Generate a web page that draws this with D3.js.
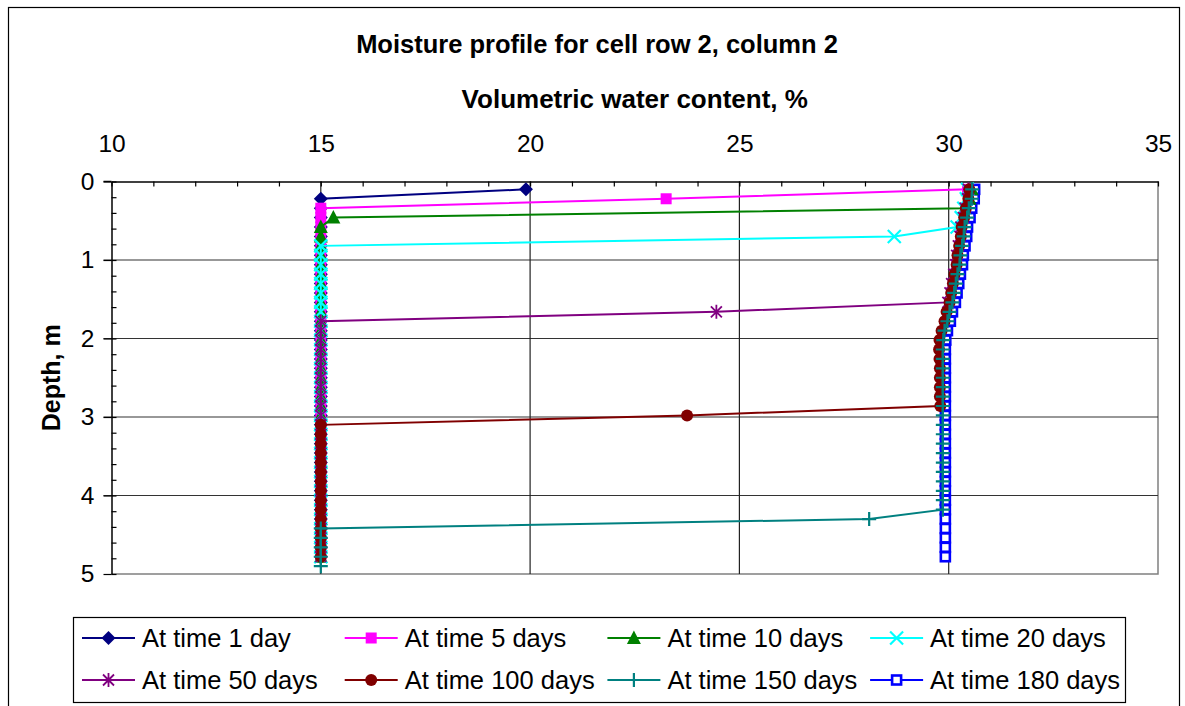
<!DOCTYPE html>
<html>
<head>
<meta charset="utf-8">
<script src="https://cdn.jsdelivr.net/npm/d3@7"></script>
<style>
  body { margin: 0; background: #fff; }
  text { font-family: "Liberation Sans", Arial, sans-serif; fill: #000; }
</style>
</head>
<body>
<div id="chart"></div>
<script>
// depth of each node, m
const depth = [0.10, 0.22, 0.34, 0.46, 0.58, 0.70, 0.82, 0.94, 1.06, 1.18,
  1.30, 1.42, 1.54, 1.66, 1.78, 1.90, 2.02, 2.14, 2.26, 2.38,
  2.50, 2.62, 2.74, 2.86, 2.98, 3.10, 3.22, 3.34, 3.46, 3.58,
  3.70, 3.82, 3.94, 4.06, 4.18, 4.30, 4.42, 4.54, 4.66, 4.78,
  4.90];

// volumetric water content, %, one value per depth node
const day1 = [19.9, 15, 15, 15, 15, 15, 15, 15, 15, 15,
  15, 15, 15, 15, 15, 15, 15, 15, 15, 15,
  15, 15, 15, 15, 15, 15, 15, 15, 15, 15,
  15, 15, 15, 15, 15, 15, 15, 15, 15, 15,
  null];
const day5 = [30.45, 23.25, 15, 15, 15, 15, 15, 15, 15, 15,
  15, 15, 15, 15, 15, 15, 15, 15, 15, 15,
  15, 15, 15, 15, 15, 15, 15, 15, 15, 15,
  15, 15, 15, 15, 15, 15, 15, 15, 15, 15,
  null];
const day10 = [30.55, 30.50, 30.38, 15.3, 15, 15, 15, 15, 15, 15,
  15, 15, 15, 15, 15, 15, 15, 15, 15, 15,
  15, 15, 15, 15, 15, 15, 15, 15, 15, 15,
  15, 15, 15, 15, 15, 15, 15, 15, 15, 15,
  null];
const day20 = [30.45, 30.42, 30.36, 30.30, 30.20, 28.7, 15, 15, 15, 15,
  15, 15, 15, 15, 15, 15, 15, 15, 15, 15,
  15, 15, 15, 15, 15, 15, 15, 15, 15, 15,
  15, 15, 15, 15, 15, 15, 15, 15, 15, 15,
  null];
const day50 = [30.47, 30.45, 30.39, 30.35, 30.29, 30.27, 30.23, 30.19, 30.17, 30.12,
  30.07, 30.03, 29.98, 24.45, 15, 15, 15, 15, 15, 15,
  15, 15, 15, 15, 15, 15, 15, 15, 15, 15,
  15, 15, 15, 15, 15, 15, 15, 15, 15, 15,
  null];
const day100 = [30.49, 30.47, 30.41, 30.37, 30.31, 30.29, 30.25, 30.21, 30.19, 30.14,
  30.10, 30.06, 30.02, 29.95, 29.90, 29.83, 29.78, 29.77, 29.78, 29.79,
  29.79, 29.79, 29.79, 29.80, 23.75, 15, 15, 15, 15, 15,
  15, 15, 15, 15, 15, 15, 15, 15, 15, 15,
  null];
const day150 = [30.56, 30.55, 30.48, 30.44, 30.38, 30.36, 30.32, 30.28, 30.26, 30.21,
  30.17, 30.13, 30.09, 30.02, 29.97, 29.90, 29.87, 29.86, 29.86, 29.86,
  29.86, 29.86, 29.86, 29.86, 29.86, 29.86, 29.86, 29.86, 29.86, 29.86,
  29.86, 29.86, 29.86, 29.86, 29.86, 28.1, 15, 15, 15, 15,
  15];
const day180 = [30.62, 30.61, 30.55, 30.51, 30.45, 30.43, 30.39, 30.35, 30.33, 30.28,
  30.24, 30.20, 30.16, 30.09, 30.04, 29.97, 29.93, 29.92, 29.92, 29.92,
  29.92, 29.92, 29.92, 29.92, 29.92, 29.92, 29.92, 29.92, 29.92, 29.92,
  29.92, 29.92, 29.92, 29.92, 29.92, 29.92, 29.92, 29.92, 29.92, 29.92,
  null];

const seriesNames = ["At time 1 day", "At time 5 days", "At time 10 days", "At time 20 days",
  "At time 50 days", "At time 100 days", "At time 150 days", "At time 180 days"];
const seriesValues = [day1, day5, day10, day20, day50, day100, day150, day180];
const seriesColors = ["#000080", "#ff00ff", "#008000", "#00ffff",
  "#800080", "#800000", "#008080", "#0000ff"];
const seriesMarkers = ["diamond", "square", "triangle", "cross", "star", "circle", "plus", "box"];
// order in which the series are painted (180 days sits underneath the rest)
const drawOrder = [7, 0, 1, 2, 3, 4, 5, 6];

const xTicks = [10, 15, 20, 25, 30, 35];
const yTicks = [0, 1, 2, 3, 4, 5];

let width = 1185,
  height = 706;

let svg = d3.select("#chart")
  .append("svg")
  .attr("width", width)
  .attr("height", height);

// chart frame
svg.append("rect")
  .attr("x", 8.5)
  .attr("y", 7.5)
  .attr("width", 1171)
  .attr("height", 720)
  .attr("fill", "none")
  .attr("stroke", "#000")
  .attr("stroke-width", 1.2);

let x = d3.scaleLinear().domain([10, 35]).range([111.5, 1158]);
let y = d3.scaleLinear().domain([0, 5]).range([181.5, 574]);

svg.append("text")
  .attr("x", 597)
  .attr("y", 53)
  .attr("text-anchor", "middle")
  .style("font-size", "25.5px")
  .style("font-weight", "bold")
  .text("Moisture profile for cell row 2, column 2");

svg.append("text")
  .attr("x", (x.range()[0] + x.range()[1]) / 2)
  .attr("y", 108)
  .attr("text-anchor", "middle")
  .style("font-size", "26px")
  .style("font-weight", "bold")
  .text("Volumetric water content, %");

svg.append("text")
  .attr("transform", "translate(60," + (y.range()[0] + y.range()[1]) / 2 + ") rotate(-90)")
  .attr("text-anchor", "middle")
  .style("font-size", "25px")
  .style("font-weight", "bold")
  .text("Depth, m");

// plot area border (right, bottom) in grey
svg.append("path")
  .attr("d", "M" + x(10) + "," + y(5) + "H" + x(35) + "V" + y(0))
  .attr("fill", "none")
  .attr("stroke", "#808080")
  .attr("stroke-width", 1.5);

// gridlines
svg.selectAll("line.hgrid")
  .data(yTicks.slice(1, 5))
  .enter()
  .append("line")
  .attr("class", "hgrid")
  .attr("x1", x(10) - 8)
  .attr("x2", x(35))
  .attr("y1", function (d) { return y(d); })
  .attr("y2", function (d) { return y(d); })
  .attr("stroke", "#333")
  .attr("stroke-width", 1.2);

svg.selectAll("line.vgrid")
  .data(xTicks.slice(1, 5))
  .enter()
  .append("line")
  .attr("class", "vgrid")
  .attr("x1", function (d) { return x(d); })
  .attr("x2", function (d) { return x(d); })
  .attr("y1", y(0))
  .attr("y2", y(5))
  .attr("stroke", "#222")
  .attr("stroke-width", 1.2);

// top axis with labels
let xAxis = svg.append("g")
  .attr("transform", "translate(0," + y(0) + ")")
  .call(d3.axisTop(x).tickValues(xTicks).tickSize(0).tickPadding(30).tickFormat(d3.format("d")));
xAxis.select(".domain").remove();
xAxis.selectAll("text").style("font-size", "24.5px").style("font-family", null);

// minor ticks pointing into the plot
svg.append("g")
  .attr("transform", "translate(0," + y(0) + ")")
  .call(d3.axisBottom(x).ticks(25).tickSize(5).tickSizeOuter(0).tickFormat(""))
  .call(function (g) { g.selectAll("line").attr("stroke", "#000").attr("stroke-width", 1.2); })
  .select(".domain").attr("stroke-width", 1.5);

svg.append("line")
  .attr("x1", x(10) - 8)
  .attr("x2", x(10))
  .attr("y1", y(0))
  .attr("y2", y(0))
  .attr("stroke", "#000")
  .attr("stroke-width", 1.5);

let yAxis = svg.append("g")
  .attr("transform", "translate(" + x(10) + ",0)")
  .call(d3.axisLeft(y).tickValues(yTicks).tickSize(8).tickPadding(9).tickFormat(d3.format("d")));
yAxis.select(".domain").remove();
yAxis.selectAll("line").attr("stroke", "#000").attr("stroke-width", 1.2);
yAxis.selectAll("text").style("font-size", "24.5px").style("font-family", null);

svg.append("g")
  .attr("transform", "translate(" + x(10) + ",0)")
  .call(d3.axisRight(y).ticks(25).tickSize(5).tickSizeOuter(0).tickFormat(""))
  .call(function (g) { g.selectAll("line").attr("stroke", "#000").attr("stroke-width", 1.2); })
  .select(".domain").attr("stroke-width", 1.5);

function drawMarker(g, type, color) {
  if (type == "diamond")
    g.append("path").attr("d", "M0,-7L7,0L0,7L-7,0Z").attr("fill", color);
  else if (type == "square")
    g.append("rect").attr("x", -5.5).attr("y", -5.5).attr("width", 11).attr("height", 11).attr("fill", color);
  else if (type == "triangle")
    g.append("path").attr("d", "M0,-7.5L7,6L-7,6Z").attr("fill", color);
  else if (type == "cross")
    g.append("path").attr("d", "M-6.5,-6.5L6.5,6.5M-6.5,6.5L6.5,-6.5").attr("stroke", color).attr("stroke-width", 2.2);
  else if (type == "star")
    g.append("path").attr("d", "M-5.5,-5.5L5.5,5.5M-5.5,5.5L5.5,-5.5M0,-7L0,7").attr("stroke", color).attr("stroke-width", 1.8);
  else if (type == "circle")
    g.append("circle").attr("r", 6).attr("fill", color);
  else if (type == "plus")
    g.append("path").attr("d", "M-7,0L7,0M0,-7L0,7").attr("stroke", color).attr("stroke-width", 2.2);
  else if (type == "box")
    g.append("rect").attr("x", -4.5).attr("y", -4.5).attr("width", 9).attr("height", 9)
      .attr("fill", "#fff").attr("stroke", color).attr("stroke-width", 2.6);
}

let line = d3.line()
  .defined(function (d) { return d.v != null; })
  .x(function (d) { return x(d.v); })
  .y(function (d) { return y(d.d); });

drawOrder.forEach(function (s) {
  let pts = seriesValues[s].map(function (v, i) { return { d: depth[i], v: v }; });
  let g = svg.append("g");
  g.append("path")
    .datum(pts)
    .attr("d", line)
    .attr("fill", "none")
    .attr("stroke", seriesColors[s])
    .attr("stroke-width", 2);
  g.selectAll("g.mk")
    .data(pts.filter(function (p) { return p.v != null; }))
    .enter()
    .append("g")
    .attr("class", "mk")
    .attr("transform", function (p) { return "translate(" + x(p.v) + "," + y(p.d) + ")"; })
    .each(function () { drawMarker(d3.select(this), seriesMarkers[s], seriesColors[s]); });
});

// legend
let legend = svg.append("g");
legend.append("rect")
  .attr("x", 73.5)
  .attr("y", 617.5)
  .attr("width", 1052)
  .attr("height", 85)
  .attr("fill", "#fff")
  .attr("stroke", "#000")
  .attr("stroke-width", 1.2);

let items = legend.selectAll("g.item")
  .data(seriesNames)
  .enter()
  .append("g")
  .attr("class", "item")
  .attr("transform", function (d, i) {
    return "translate(" + (82 + (i % 4) * 262.7) + "," + (638 + Math.floor(i / 4) * 42) + ")";
  });
items.append("line")
  .attr("x1", 0)
  .attr("x2", 53)
  .attr("stroke", function (d, i) { return seriesColors[i]; })
  .attr("stroke-width", 2);
items.append("g")
  .attr("transform", "translate(26.5,0)")
  .each(function (d, i) { drawMarker(d3.select(this), seriesMarkers[i], seriesColors[i]); });
items.append("text")
  .attr("x", 60)
  .attr("dy", "0.35em")
  .style("font-size", "25.5px")
  .text(function (d) { return d; });
</script>
</body>
</html>
